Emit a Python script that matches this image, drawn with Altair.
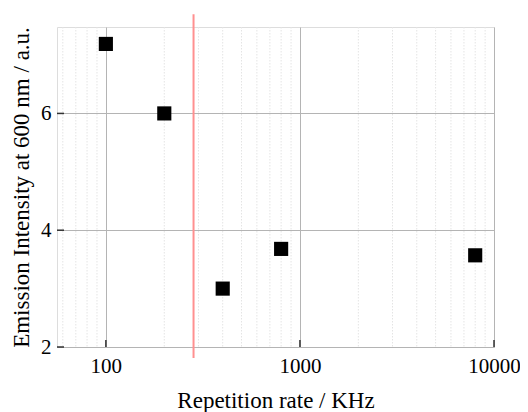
import altair as alt
import pandas as pd

# data
rate_khz = [100, 200, 400, 800, 8000]
intensity = [7.19, 6.0, 3.0, 3.68, 3.57]
marker_rate = [283]
marker_y_low = [1.81]
marker_y_high = [7.70]
major_x = [100, 1000, 10000]
major_y = [2, 4, 6]
minor_x = [60, 70, 80, 90, 200, 300, 400, 500, 600, 700, 800, 900,
           2000, 3000, 4000, 5000, 6000, 7000, 8000, 9000]

pts = pd.DataFrame({"rate": rate_khz, "val": intensity})
red = pd.DataFrame({"rate": marker_rate, "y1": marker_y_low, "y2": marker_y_high})
minor = pd.DataFrame({"rate": minor_x})
majx = pd.DataFrame({"rate": major_x})
majy = pd.DataFrame({"val": major_y})

FONT = "Liberation Serif"
xscale = alt.Scale(type="log", domain=[56, 10000], nice=False)
yscale = alt.Scale(domain=[2, 7.48], nice=False, zero=False)
W, H = 437, 320

minor_grid = alt.Chart(minor).mark_rule(color="#e4e4e4", strokeDash=[1.5, 1.5], strokeWidth=1).encode(
    x=alt.X("rate:Q", scale=xscale)
)

base_x = alt.X("rate:Q", scale=xscale,
               axis=alt.Axis(values=major_x, format="d", grid=True, gridColor="#b4b4b4",
                             gridWidth=1, ticks=False, domain=False,
                             labelFont=FONT, labelFontSize=21, labelColor="black",
                             labelPadding=8, labelFlush=False,
                             title="Repetition rate / KHz", titleFont=FONT,
                             titleFontSize=23, titleFontWeight="normal", titleColor="black",
                             titlePadding=13))
base_y = alt.Y("val:Q", scale=yscale,
               axis=alt.Axis(values=major_y, format="d", grid=True, gridColor="#b4b4b4", gridWidth=1,
                             ticks=False, domain=False,
                             labelFont=FONT, labelFontSize=21, labelColor="black",
                             labelPadding=6,
                             title="Emission Intensity at 600 nm / a.u.", titleFont=FONT,
                             titleFontSize=23, titleFontWeight="normal", titleColor="black",
                             titlePadding=7))

points = alt.Chart(pts).mark_square(size=200, color="black", opacity=1, filled=True).encode(
    x=base_x, y=base_y
)

red_line = alt.Chart(red).mark_rule(color="#ff9090", strokeWidth=2, clip=False).encode(
    x=alt.X("rate:Q", scale=xscale),
    y=alt.Y("y1:Q", scale=yscale),
    y2="y2:Q",
)

xticks = alt.Chart(majx).mark_rule(color="#333", strokeWidth=1.5).encode(
    x=alt.X("rate:Q", scale=xscale),
    y=alt.value(H), y2=alt.value(H - 7),
)
yticks = alt.Chart(majy).mark_rule(color="#333", strokeWidth=1.5).encode(
    y=alt.Y("val:Q", scale=yscale),
    x=alt.value(0), x2=alt.value(7),
)

chart = alt.layer(minor_grid, points, xticks, yticks, red_line).properties(
    width=W, height=H,
    padding={"left": 49, "top": 19, "right": 26, "bottom": 66},
    autosize=alt.AutoSizeParams(type="none"),
).configure_view(stroke="#333", strokeWidth=1.8).configure(background="white", font=FONT)

chart.save("out.html", embed_options={"renderer": "svg", "actions": False})
